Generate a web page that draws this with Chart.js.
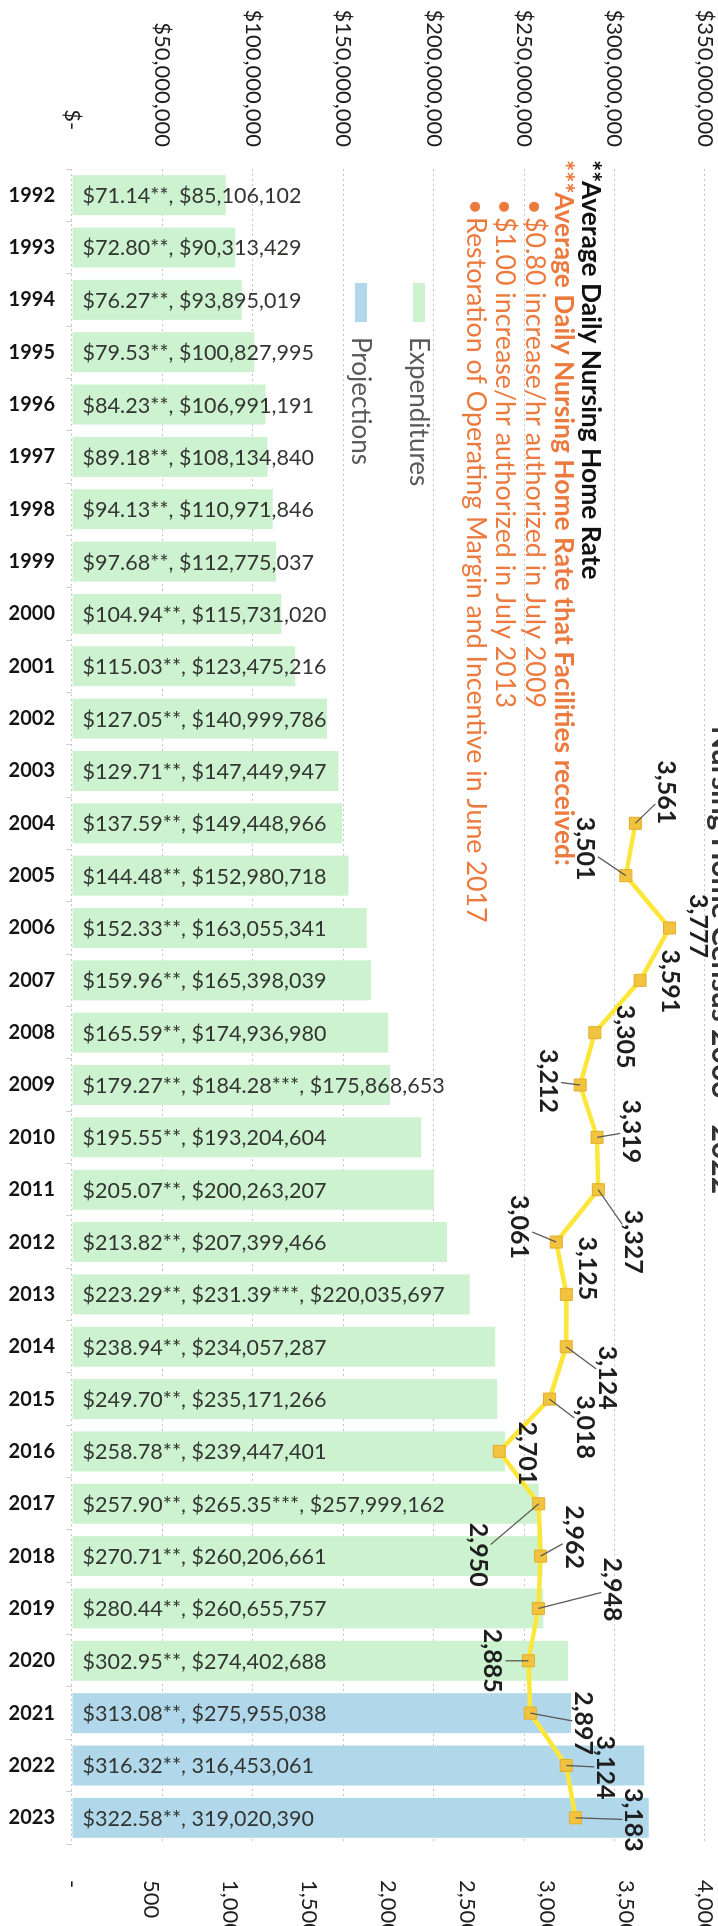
<!DOCTYPE html>
<html>
<head>
<meta charset="utf-8">
<script src="https://cdn.jsdelivr.net/npm/chart.js@4.4.1/dist/chart.umd.min.js"></script>
<style>
  html, body { margin: 0; padding: 0; background: #fff; overflow: hidden; }
  #wrap { position: relative; width: 718px; height: 1926px; overflow: hidden; background: #fff; }
  #chart { position: absolute; left: 0; top: 0; width: 1926px; height: 718px;
           transform-origin: 0 0; transform: translateX(718px) rotate(90deg); }
</style>
</head>
<body>
<div id="wrap"><canvas id="chart" width="1926" height="718"></canvas></div>
<script>
// ---------------- DATA ----------------
const years = ['1992','1993','1994','1995','1996','1997','1998','1999','2000','2001','2002',
  '2003','2004','2005','2006','2007','2008','2009','2010','2011','2012','2013','2014','2015',
  '2016','2017','2018','2019','2020','2021','2022','2023'];

const expenditures = [85106102, 90313429, 93895019, 100827995, 106991191, 108134840, 110971846,
  112775037, 115731020, 123475216, 140999786, 147449947, 149448966, 152980718, 163055341,
  165398039, 174936980, 175868653, 193204604, 200263207, 207399466, 220035697, 234057287,
  235171266, 239447401, 257999162, 260206661, 260655757, 274402688, null, null, null];

const projections = [null, null, null, null, null, null, null, null, null, null, null, null,
  null, null, null, null, null, null, null, null, null, null, null, null, null, null, null,
  null, null, 275955038, 316453061, 319020390];

const avgDailyRate = [71.14, 72.80, 76.27, 79.53, 84.23, 89.18, 94.13, 97.68, 104.94, 115.03,
  127.05, 129.71, 137.59, 144.48, 152.33, 159.96, 165.59, 179.27, 195.55, 205.07, 213.82,
  223.29, 238.94, 249.70, 258.78, 257.90, 270.71, 280.44, 302.95, 313.08, 316.32, 322.58];

const facilityRate = [null, null, null, null, null, null, null, null, null, null, null, null,
  null, null, null, null, null, 184.28, null, null, null, 231.39, null, null, null, 265.35,
  null, null, null, null, null, null];

const residents = [null, null, null, null, null, null, null, null, null, null, null, null,
  3561, 3501, 3777, 3591, 3305, 3212, 3319, 3327, 3061, 3125, 3124, 3018, 2701, 2950, 2962,
  2948, 2885, 2897, 3124, 3183];

const noDollarYears = ['2022', '2023'];

const moneyTicks = [0, 50000000, 100000000, 150000000, 200000000, 250000000, 300000000, 350000000];
const countTicks = [0, 500, 1000, 1500, 2000, 2500, 3000, 3500, 4000];

const titleText = 'Nursing Home Census 2003 - 2022';
const noteLines = [
  '**Average Daily Nursing Home Rate',
  '***Average Daily Nursing Home Rate that Facilities received:',
  '$0.80 increase/hr authorized in July 2009',
  '$1.00 increase/hr authorized in July 2013',
  'Restoration of Operating Margin and Incentive in June 2017'
];

// ---------------- STYLE / LAYOUT (not data) ----------------
const FONT = 'Lato, "Open Sans", sans-serif';
const GREEN = '#cdf2cf';
const BLUE = '#b1d8ea';
const ORANGE = '#ec7a3e';
// label offsets for the resident-count labels: [dx, dy, leaderLine]
const lineLabelPos = {
  '2004': [-31, -32, 1], '2005': [-27, 40, 1], '2006': [-2, -30, 0], '2007': [1, -31, 0],
  '2008': [4, -31, 0], '2009': [-4, 31, 1], '2010': [-6, -35, 1], '2011': [52, -36, 1],
  '2012': [-15, 36, 1], '2013': [-26, -22, 0], '2014': [31, -42, 1], '2015': [28, -37, 1],
  '2016': [2, -29, 0], '2017': [51, 60, 1], '2018': [-19, -34, 1], '2019': [-19, -75, 1],
  '2020': [0, 35, 1], '2021': [10, -54, 1], '2022': [2, -40, 1], '2023': [2, -59, 1]
};

function fmtNum(v) { return v.toLocaleString('en-US'); }
function barLabel(i) {
  const parts = ['$' + avgDailyRate[i].toFixed(2) + '**'];
  if (facilityRate[i] != null) parts.push('$' + facilityRate[i].toFixed(2) + '***');
  const v = expenditures[i] != null ? expenditures[i] : projections[i];
  parts.push((noDollarYears.includes(years[i]) ? '' : '$') + fmtNum(v));
  return parts.join(', ');
}

// ---------------- PLUGINS ----------------
const barLabelPlugin = {
  id: 'barLabels',
  afterDatasetsDraw(chart) {
    const ctx = chart.ctx;
    const m0 = chart.getDatasetMeta(0), m1 = chart.getDatasetMeta(1);
    ctx.save();
    ctx.font = '21.6px ' + FONT;
    ctx.fillStyle = '#333633';
    ctx.textAlign = 'left';
    ctx.textBaseline = 'middle';
    years.forEach((y, i) => {
      const el = expenditures[i] != null ? m0.data[i] : m1.data[i];
      if (!el) return;
      ctx.save();
      ctx.translate(el.x + 1, el.base - 10);
      ctx.rotate(-Math.PI / 2);
      ctx.fillText(barLabel(i), 0, 0);
      ctx.restore();
    });
    ctx.restore();
  }
};

const lineLabelPlugin = {
  id: 'lineLabels',
  afterDatasetsDraw(chart) {
    const ctx = chart.ctx;
    const meta = chart.getDatasetMeta(2);
    ctx.save();
    ctx.font = 'bold 25px ' + FONT;
    ctx.textAlign = 'center';
    ctx.textBaseline = 'middle';
    years.forEach((y, i) => {
      if (residents[i] == null) return;
      const p = meta.data[i];
      const pos = lineLabelPos[y] || [0, -30, 0];
      const txt = fmtNum(residents[i]);
      const cx = p.x + pos[0], cy = p.y + pos[1];
      if (pos[2]) {
        const hw = ctx.measureText(txt).width / 2 + 3, hh = 12;
        const vx = p.x - cx, vy = p.y - cy;
        const s = Math.min(vx !== 0 ? hw / Math.abs(vx) : Infinity, vy !== 0 ? hh / Math.abs(vy) : Infinity);
        if (s < 1) {
          const sx = cx + vx * s, sy = cy + vy * s;
          ctx.beginPath();
          ctx.moveTo(sx, sy);
          ctx.lineTo(p.x, p.y);
          ctx.strokeStyle = '#5a5a5a';
          ctx.lineWidth = 1.3;
          ctx.stroke();
        }
      }
      ctx.fillStyle = '#1e1e1e';
      ctx.fillText(txt, cx, cy + 1);
    });
    ctx.restore();
  }
};

const notesPlugin = {
  id: 'notes',
  afterDraw(chart) {
    const ctx = chart.ctx;
    ctx.save();
    // title (mostly outside the picture, as in the scan)
    ctx.font = 'bold 30px ' + FONT;
    ctx.fillStyle = '#333';
    ctx.textAlign = 'center';
    ctx.textBaseline = 'alphabetic';
    ctx.fillText(titleText, 960, 6);
    // notes
    ctx.textAlign = 'left';
    ctx.font = 'bold 26.4px ' + FONT;
    ctx.fillStyle = '#111';
    ctx.fillText(noteLines[0], 160, 136);
    ctx.fillStyle = ORANGE;
    ctx.fillText(noteLines[1], 160, 163);
    ctx.font = '26.8px ' + FONT;
    const bl = [192, 222, 251];
    for (let k = 0; k < 3; k++) {
      ctx.fillText('\u2022', 199, bl[k]);
      ctx.fillText(noteLines[k + 2], 217, bl[k]);
    }
    // legend
    ctx.fillStyle = GREEN;
    ctx.fillRect(283, 293, 39, 12);
    ctx.fillStyle = BLUE;
    ctx.fillRect(283, 351, 39, 12);
    ctx.font = '26px ' + FONT;
    ctx.fillStyle = '#595959';
    ctx.textBaseline = 'middle';
    ctx.fillText(chart.data.datasets[0].label, 337, 300);
    ctx.fillText(chart.data.datasets[1].label, 337, 358);
    ctx.restore();
  }
};

// ---------------- CHART ----------------
new Chart(document.getElementById('chart'), {
  data: {
    labels: years,
    datasets: [
      { type: 'bar', label: 'Expenditures', data: expenditures, backgroundColor: GREEN,
        yAxisID: 'y', grouped: false, barPercentage: 0.764, categoryPercentage: 1, order: 2 },
      { type: 'bar', label: 'Projections', data: projections, backgroundColor: BLUE,
        yAxisID: 'y', grouped: false, barPercentage: 0.764, categoryPercentage: 1, order: 2 },
      { type: 'line', label: 'Residents', data: residents, yAxisID: 'y2', order: 0,
        borderColor: '#fde63a', borderWidth: 4.5, tension: 0,
        pointStyle: 'rect', pointRadius: 8.5, pointBackgroundColor: '#f2c33f',
        pointBorderColor: '#e2ad2c', pointBorderWidth: 1 }
    ]
  },
  options: {
    responsive: false,
    devicePixelRatio: 1,
    animation: false,
    layout: { padding: { top: 13, left: 0, right: 0, bottom: 0 } },
    plugins: { legend: { display: false }, tooltip: { enabled: false }, title: { display: false } },
    scales: {
      x: {
        type: 'category',
        offset: true,
        grid: { display: true, drawOnChartArea: false, drawTicks: true, tickLength: 6,
                color: '#d0d0d0', offset: true },
        border: { display: false },
        ticks: { autoSkip: false, minRotation: 90, maxRotation: 90, padding: 11,
                 color: '#141414', font: { family: FONT, size: 20, weight: 'bold' } },
        afterFit(s) { s.height = 72; }
      },
      y: {
        position: 'left',
        min: 0, max: 350000000,
        afterBuildTicks(s) { s.ticks = moneyTicks.map(v => ({ value: v })); },
        grid: { color: '#c4c4c4', lineWidth: 1, drawTicks: true, tickLength: 22,
                tickColor: 'rgba(0,0,0,0)' },
        border: { display: false, dash: [2, 3] },
        ticks: { padding: 0, color: '#1e1e1e', font: { family: FONT, size: 22 },
                 callback: v => v === 0 ? '$-   ' : '$' + fmtNum(v) },
        afterFit(s) { s.width = 169; }
      },
      y2: {
        position: 'right',
        min: 0, max: 4000,
        afterBuildTicks(s) { s.ticks = countTicks.map(v => ({ value: v })); },
        grid: { drawOnChartArea: false, drawTicks: true, tickLength: 36,
                tickColor: 'rgba(0,0,0,0)' },
        border: { display: false },
        ticks: { padding: 0, color: '#1e1e1e', font: { family: FONT, size: 22 },
                 callback: v => v === 0 ? '-' : fmtNum(v) },
        afterFit(s) { s.width = 82; }
      }
    }
  },
  plugins: [barLabelPlugin, lineLabelPlugin, notesPlugin]
});
</script>
</body>
</html>
